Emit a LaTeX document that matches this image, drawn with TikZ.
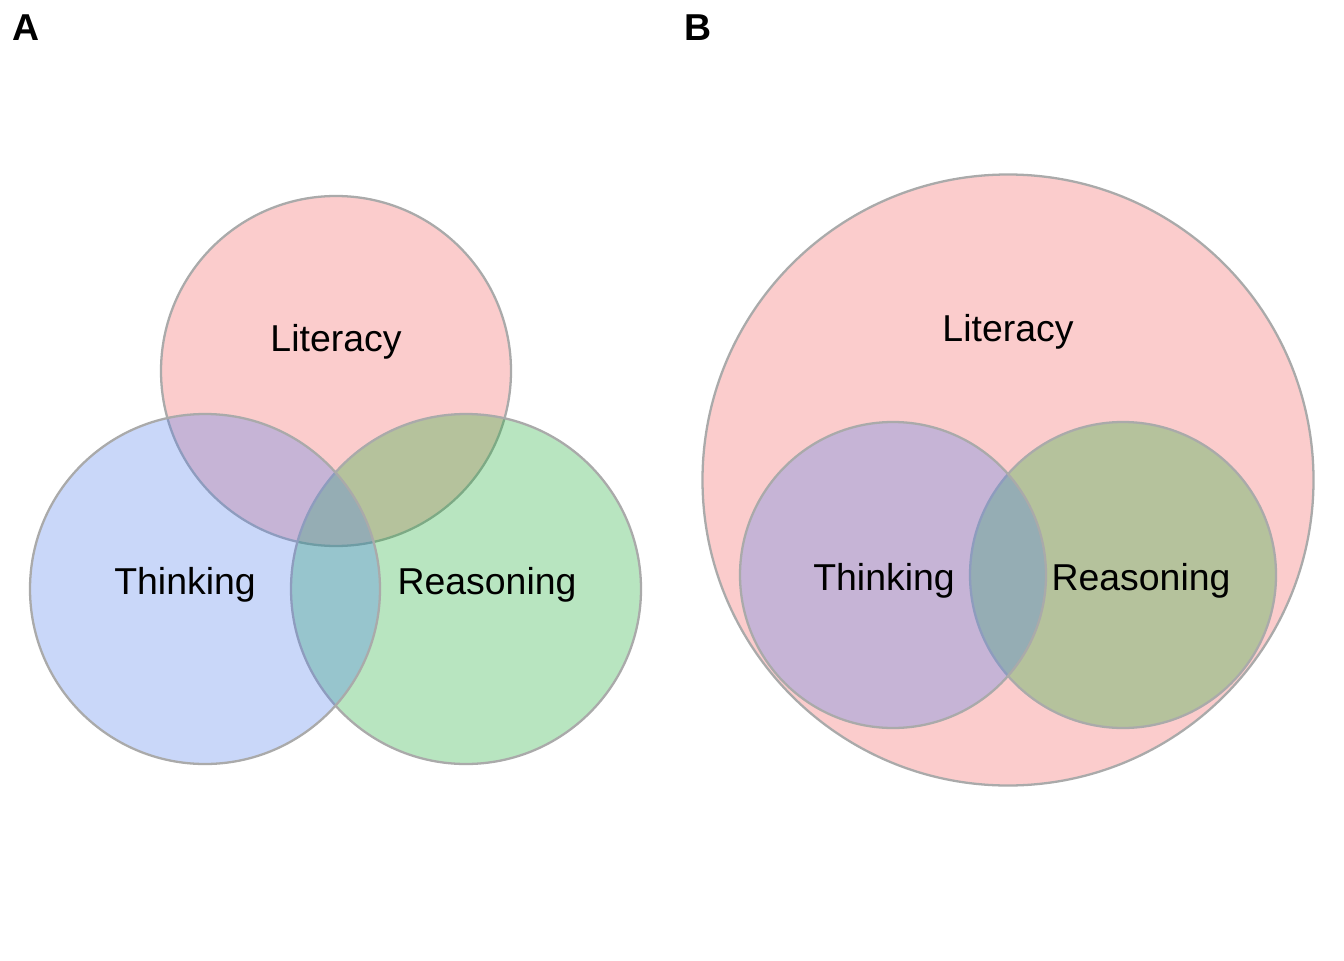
\documentclass[tikz,border=0pt]{standalone}
\usepackage{fontspec}
\setmainfont{Liberation Sans}
\usetikzlibrary{positioning}
\definecolor{RoseLit}{RGB}{242,88,88}
\definecolor{BleuThi}{RGB}{78,125,238}
\definecolor{VertRea}{RGB}{22,172,48}
\definecolor{Bord}{RGB}{170,170,170}
\tikzset{ens/.style={circle, draw=Bord, line width=1.3pt, fill opacity=0.3, draw opacity=1, inner sep=0pt, outer sep=0pt}}
\tikzset{etiq/.style={anchor=base, font=\fontsize{21.3}{25}\selectfont, text=black}}
\tikzset{panneau/.style={anchor=base, font=\fontsize{21.3}{25}\selectfont\bfseries, text=black}}
\begin{document}
\begin{tikzpicture}
\useasboundingbox[fill=white] (0,0) rectangle (26.88,-19.2);
% panneau A
\node[ens, fill=RoseLit, minimum size=7cm] (litA) at (6.72,-7.42) {};
\node[ens, fill=VertRea, minimum size=7cm] (reaA) at (9.32,-11.78) {};
\node[ens, fill=BleuThi, minimum size=7cm] (thiA) at (4.10,-11.78) {};
\node[etiq] (tlitA) at (6.72,-7.02) {Literacy};
\node[etiq] (tthiA) at (3.70,-11.88) {Thinking};
\node[etiq] (treaA) at (9.74,-11.88) {Reasoning};
% panneau B
\node[ens, fill=RoseLit, minimum size=12.22cm] (litB) at (20.16,-9.6) {};
\node[ens, fill=VertRea, minimum size=6.12cm] (reaB) at (22.46,-11.5) {};
\node[ens, fill=BleuThi, minimum size=6.12cm] (thiB) at (17.86,-11.5) {};
\node[etiq] (tlitB) at (20.16,-6.82) {Literacy};
\node[etiq] (tthiB) at (17.68,-11.80) {Thinking};
\node[etiq] (treaB) at (22.82,-11.80) {Reasoning};
% lettres
\node[panneau] (pA) at (0.52,-0.82) {A};
\node[panneau] (pB) at (13.96,-0.82) {B};
\end{tikzpicture}
\end{document}
